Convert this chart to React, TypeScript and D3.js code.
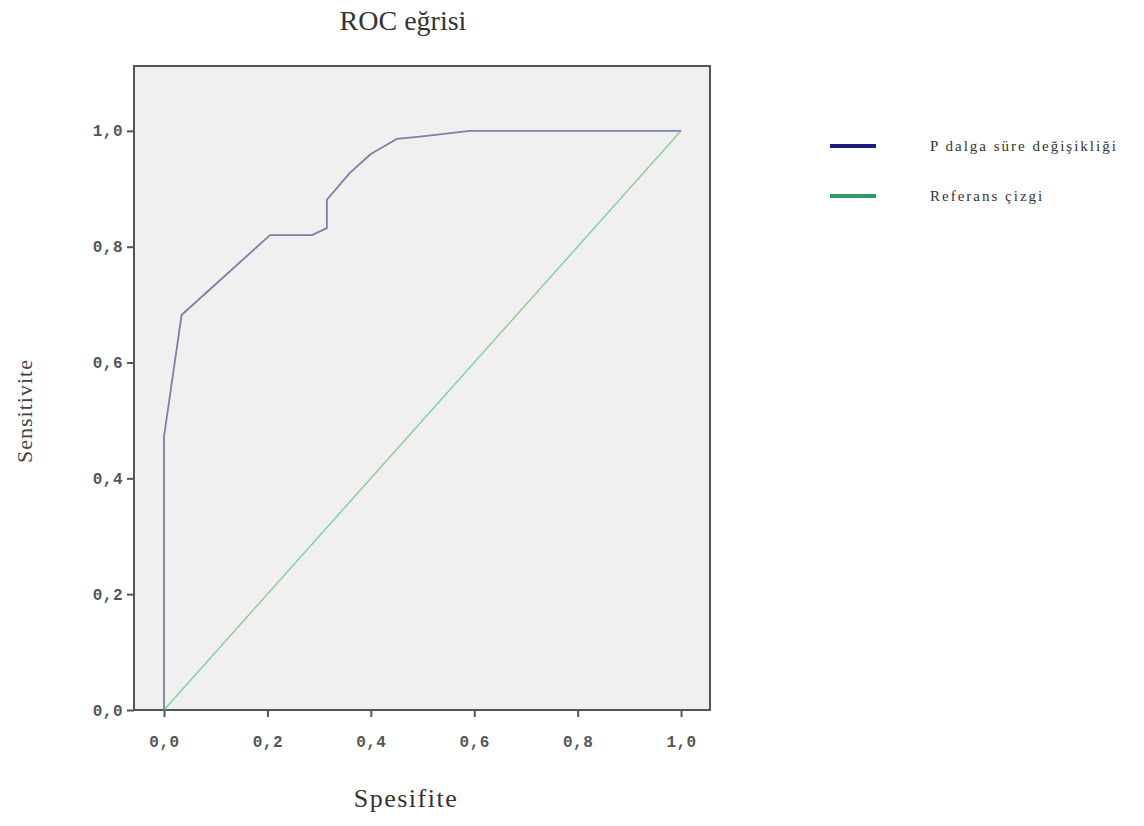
import { useEffect, useRef } from "react";
import * as d3 from "d3";

// ROC curve points (1 - specificity, sensitivity)
const fpr = [0, 0, 0.034, 0.205, 0.286, 0.315, 0.315, 0.36, 0.4, 0.45, 0.495, 0.592, 1.0];
const tpr = [0, 0.472, 0.682, 0.82, 0.82, 0.832, 0.881, 0.928, 0.96, 0.986, 0.99, 1.0, 1.0];
const refLine = [0, 1];
const ticks = [0, 0.2, 0.4, 0.6, 0.8, 1.0];
const seriesNames = ["P dalga süre değişikliği", "Referans çizgi"];
const seriesColors = ["#1c1c80", "#2f9a68"];

const App = () => {
  const svgRef = useRef<SVGSVGElement>(null);

  useEffect(() => {
    const width = 1144;
    const height = 826;
    const svg = d3.select(svgRef.current).attr("width", width).attr("height", height);
    svg.selectAll("*").remove();

    const left = 134, right = 710, top = 66, bottom = 710;
    const x = d3.scaleLinear().domain([-0.058, 1.056]).range([left, right]);
    const y = d3.scaleLinear().domain([0, 1.112]).range([bottom, top]);

    svg.append("rect")
      .attr("x", left).attr("y", top)
      .attr("width", right - left).attr("height", bottom - top)
      .attr("fill", "#f0f0f0")
      .attr("stroke", "#555").attr("stroke-width", 2);

    const mono = "'Liberation Mono', 'DejaVu Sans Mono', monospace";
    const serif = "'Liberation Serif', 'DejaVu Serif', serif";
    const fmt = (d: d3.NumberValue) => d3.format(".1f")(d as number).replace(".", ",");

    const yAxis = svg.append("g")
      .attr("transform", `translate(${left},0)`)
      .call(d3.axisLeft(y).tickValues(ticks).tickSize(7).tickPadding(4).tickFormat(fmt));
    const xAxis = svg.append("g")
      .attr("transform", `translate(0,${bottom})`)
      .call(d3.axisBottom(x).tickValues(ticks).tickSize(7).tickPadding(19).tickFormat(fmt));
    [yAxis, xAxis].forEach((a) => {
      a.select(".domain").remove();
      a.selectAll("line").attr("stroke", "#555").attr("stroke-width", 2);
      a.selectAll("text").attr("font-family", mono).attr("font-size", 16)
        .attr("font-weight", "bold").attr("letter-spacing", 0.5)
        .attr("fill", "#555");
    });

    const line = d3.line<number>()
      .x((_, i) => x(fpr[i]))
      .y((d) => y(d));

    svg.append("path")
      .datum(refLine)
      .attr("d", d3.line<number>().x((d) => x(d)).y((d) => y(d)))
      .attr("fill", "none")
      .attr("stroke", "#8ccf9e")
      .attr("stroke-width", 1.5);

    svg.append("path")
      .datum(tpr)
      .attr("d", line)
      .attr("fill", "none")
      .attr("stroke", "#7b80a6")
      .attr("stroke-width", 1.8)
      .attr("stroke-linejoin", "round");

    svg.append("text")
      .attr("x", 403).attr("y", 30)
      .attr("text-anchor", "middle")
      .attr("font-family", serif).attr("font-size", 28)
      .attr("fill", "#333")
      .text("ROC eğrisi");

    svg.append("text")
      .attr("x", 406).attr("y", 807)
      .attr("text-anchor", "middle")
      .attr("font-family", serif).attr("font-size", 26)
      .attr("letter-spacing", 1.5)
      .attr("fill", "#333")
      .text("Spesifite");

    svg.append("text")
      .attr("transform", "translate(32,411) rotate(-90)")
      .attr("text-anchor", "middle")
      .attr("font-family", serif).attr("font-size", 22)
      .attr("letter-spacing", 1)
      .attr("fill", "#444")
      .text("Sensitivite");

    const legend = svg.append("g").attr("transform", "translate(830,146)");
    seriesNames.forEach((name, i) => {
      const g = legend.append("g").attr("transform", `translate(0,${i * 50})`);
      g.append("line")
        .attr("x1", 0).attr("x2", 46)
        .attr("stroke", seriesColors[i]).attr("stroke-width", 4);
      g.append("text")
        .attr("x", 100).attr("dy", "0.35em")
        .attr("font-family", serif).attr("font-size", 15)
        .attr("letter-spacing", 2)
        .attr("fill", "#333")
        .text(name);
    });
  }, []);

  return <svg ref={svgRef} style={{ display: "block", margin: -8 }}></svg>;
};

export default App;
